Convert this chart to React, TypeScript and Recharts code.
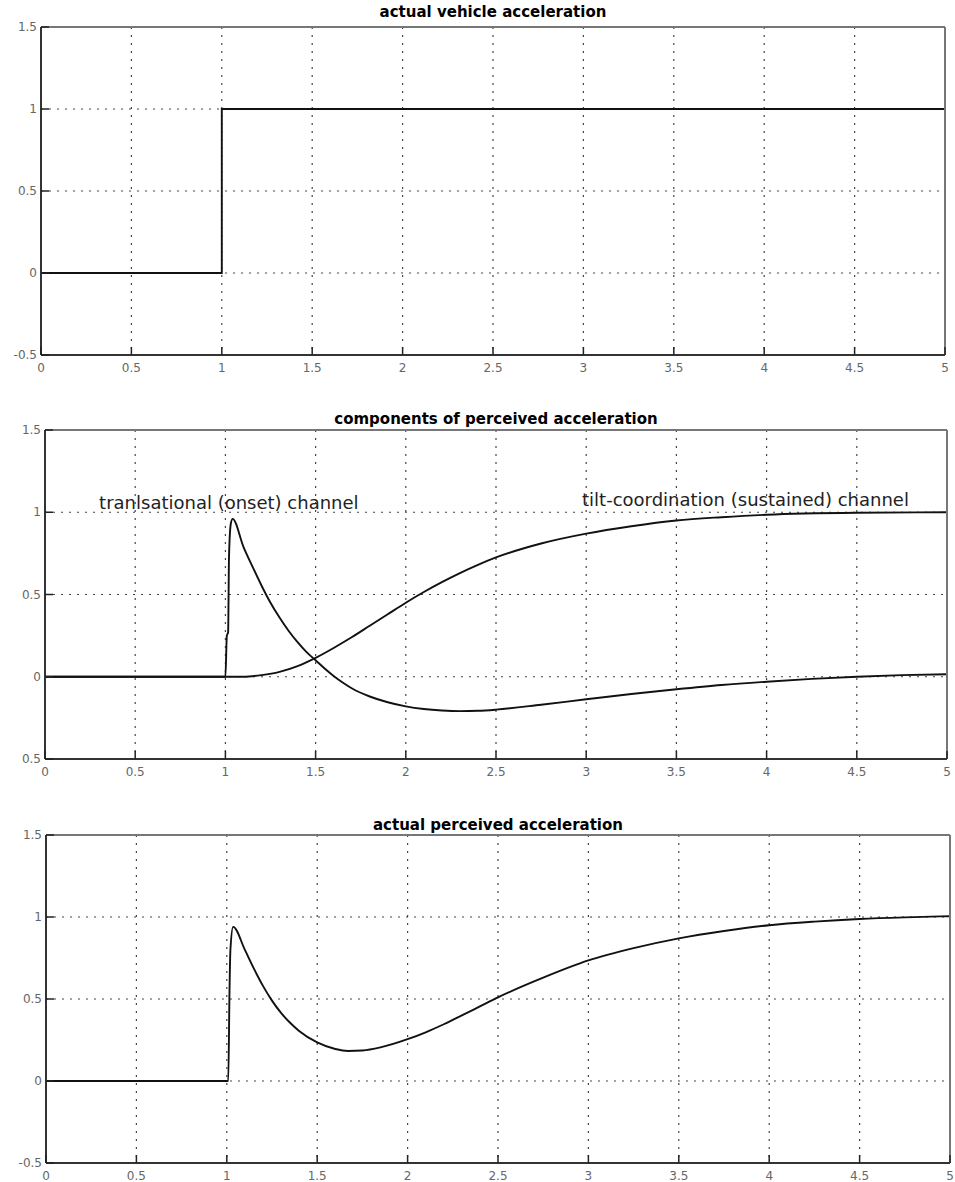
import React from 'react';
import { LineChart, Line, XAxis, YAxis, CartesianGrid, ReferenceDot } from 'recharts';

// ---------- data ----------
const timeTicks = [0, 0.5, 1, 1.5, 2, 2.5, 3, 3.5, 4, 4.5, 5];
const timeTickLabels = ['0', '0.5', '1', '1.5', '2', '2.5', '3', '3.5', '4', '4.5', '5'];
const accelTicks = [-0.5, 0, 0.5, 1, 1.5];
const accelTickLabels = ['-0.5', '0', '0.5', '1', '1.5'];
// the middle panel's lowest label shows as "0.5" in the reference (minus sign clipped)
const accelTickLabelsMiddle = ['0.5', '0', '0.5', '1', '1.5'];

const vehicleAcceleration = [
  { t: 0, a: 0 },
  { t: 1, a: 0 },
  { t: 1, a: 1 },
  { t: 5, a: 1 },
];

const translationalChannel = [
  { t: 0, a: 0 }, { t: 1.0, a: 0 }, { t: 1.008, a: 0.25 }, { t: 1.015, a: 0.27 },
  { t: 1.02, a: 0.73 }, { t: 1.03, a: 0.93 }, { t: 1.04, a: 0.96 },
  { t: 1.1, a: 0.79 }, { t: 1.15, a: 0.67 }, { t: 1.2, a: 0.555 }, { t: 1.25, a: 0.45 },
  { t: 1.3, a: 0.36 }, { t: 1.35, a: 0.28 }, { t: 1.4, a: 0.21 }, { t: 1.45, a: 0.15 },
  { t: 1.5, a: 0.1 }, { t: 1.55, a: 0.05 }, { t: 1.6, a: 0.005 }, { t: 1.65, a: -0.035 },
  { t: 1.7, a: -0.07 }, { t: 1.8, a: -0.12 }, { t: 1.9, a: -0.155 }, { t: 2.0, a: -0.18 },
  { t: 2.1, a: -0.196 }, { t: 2.2, a: -0.205 }, { t: 2.3, a: -0.209 }, { t: 2.4, a: -0.207 },
  { t: 2.5, a: -0.2 }, { t: 2.75, a: -0.17 }, { t: 3.0, a: -0.137 }, { t: 3.25, a: -0.105 },
  { t: 3.5, a: -0.076 }, { t: 3.75, a: -0.05 }, { t: 4.0, a: -0.03 }, { t: 4.25, a: -0.013 },
  { t: 4.5, a: 0.0 }, { t: 4.75, a: 0.01 }, { t: 5.0, a: 0.015 },
];

const tiltChannel = [
  { t: 0, a: 0 }, { t: 1.1, a: 0 }, { t: 1.2, a: 0.01 }, { t: 1.3, a: 0.03 }, { t: 1.4, a: 0.065 },
  { t: 1.5, a: 0.115 }, { t: 1.6, a: 0.175 }, { t: 1.7, a: 0.24 }, { t: 1.8, a: 0.31 },
  { t: 1.9, a: 0.38 }, { t: 2.0, a: 0.45 }, { t: 2.1, a: 0.515 }, { t: 2.2, a: 0.575 },
  { t: 2.3, a: 0.63 }, { t: 2.4, a: 0.68 }, { t: 2.5, a: 0.725 }, { t: 2.75, a: 0.81 },
  { t: 3.0, a: 0.87 }, { t: 3.25, a: 0.915 }, { t: 3.5, a: 0.95 }, { t: 3.75, a: 0.97 },
  { t: 4.0, a: 0.985 }, { t: 4.5, a: 0.997 }, { t: 5.0, a: 1.0 },
];

const perceivedAcceleration = [
  { t: 0, a: 0 }, { t: 1.0, a: 0 }, { t: 1.008, a: 0.0 }, { t: 1.015, a: 0.55 },
  { t: 1.02, a: 0.8 }, { t: 1.035, a: 0.94 }, { t: 1.1, a: 0.8 }, { t: 1.15, a: 0.685 },
  { t: 1.2, a: 0.58 }, { t: 1.25, a: 0.49 }, { t: 1.3, a: 0.415 }, { t: 1.35, a: 0.355 },
  { t: 1.4, a: 0.305 }, { t: 1.5, a: 0.235 }, { t: 1.6, a: 0.195 }, { t: 1.67, a: 0.183 },
  { t: 1.75, a: 0.186 }, { t: 1.85, a: 0.205 }, { t: 2.0, a: 0.255 },
  { t: 2.1, a: 0.297 }, { t: 2.2, a: 0.346 }, { t: 2.3, a: 0.4 }, { t: 2.4, a: 0.455 },
  { t: 2.5, a: 0.51 }, { t: 2.75, a: 0.63 }, { t: 3.0, a: 0.735 }, { t: 3.25, a: 0.81 },
  { t: 3.5, a: 0.87 }, { t: 3.75, a: 0.915 }, { t: 4.0, a: 0.95 }, { t: 4.25, a: 0.972 },
  { t: 4.5, a: 0.988 }, { t: 4.75, a: 0.998 }, { t: 5.0, a: 1.005 },
];

const panelTitles = [
  'actual vehicle acceleration',
  'components of perceived acceleration',
  'actual perceived acceleration',
];

const channelNotes = [
  { text: 'tranlsational (onset) channel', t: 0.3, a: 1.022 },
  { text: 'tilt-coordination (sustained) channel', t: 2.977, a: 1.04 },
];

// ---------- styling ----------
const W = 955;
const TICK_LEN = 8;
const LABEL_FONT = '"DejaVu Sans", sans-serif';
const LABEL_COLOR = '#666';
const FRAME_DARK = '#333';
const FRAME_LIGHT = '#777';

const labelFor = (ticks: number[], labels: string[], v: number) => {
  const i = ticks.findIndex((x) => Math.abs(x - v) < 1e-9);
  return i >= 0 ? labels[i] : String(v);
};

const BottomTick = (props: any) => {
  const { x, y, payload } = props;
  return (
    <g>
      <line x1={x} x2={x} y1={y} y2={y - TICK_LEN} stroke="#222" strokeWidth={1.5} />
      <text x={x} y={y + 17} textAnchor="middle" fill={LABEL_COLOR} fontSize={12} fontFamily={LABEL_FONT}>
        {labelFor(timeTicks, timeTickLabels, payload.value)}
      </text>
    </g>
  );
};

const TopTick = (props: any) => {
  const { x, y } = props;
  return <line x1={x} x2={x} y1={y} y2={y + TICK_LEN} stroke="#222" strokeWidth={1.5} />;
};

const makeLeftTick = (labels: string[]) => (props: any) => {
  const { x, y, payload } = props;
  return (
    <g>
      <line x1={x} x2={x + TICK_LEN} y1={y} y2={y} stroke="#222" strokeWidth={1.5} />
      <text x={x - 4} y={y + 4} textAnchor="end" fill={LABEL_COLOR} fontSize={12} fontFamily={LABEL_FONT}>
        {labelFor(accelTicks, labels, payload.value)}
      </text>
    </g>
  );
};

const RightTick = (props: any) => {
  const { x, y } = props;
  return <line x1={x} x2={x - TICK_LEN} y1={y} y2={y} stroke="#222" strokeWidth={1.5} />;
};

type PanelProps = {
  top: number;
  height: number;
  frame: { top: number; right: number; bottom: number; left: number };
  title: string;
  titleBaseline: number;
  series: { t: number; a: number }[][];
  curveType: 'linear' | 'monotone';
  yLabels: string[];
  notes?: { text: string; t: number; a: number }[];
};

function Panel({ top, height, frame, title, titleBaseline, series, curveType, yLabels, notes }: PanelProps) {
  const plotW = W - frame.left - frame.right;
  return (
    <div style={{ position: 'absolute', left: 0, top, width: W, height }}>
      <div
        style={{
          position: 'absolute',
          left: frame.left,
          width: plotW,
          top: titleBaseline - 12.7,
          height: 15,
          lineHeight: '15px',
          textAlign: 'center',
          fontFamily: LABEL_FONT,
          fontWeight: 'bold',
          fontSize: 15,
          color: '#000',
          whiteSpace: 'nowrap',
        }}
      >
        {title}
      </div>
      <LineChart width={W} height={height} margin={{ top: 0, right: 0, bottom: 0, left: 0 }}>
        <CartesianGrid stroke="#444" strokeWidth={1.2} strokeDasharray="2 6" />
        <XAxis
          type="number"
          dataKey="t"
          domain={[0, 5]}
          ticks={timeTicks}
          interval={0}
          height={frame.bottom}
          tickSize={0}
          tickMargin={0}
          tickLine={false}
          axisLine={{ stroke: FRAME_DARK, strokeWidth: 2 }}
          tick={BottomTick}
        />
        <XAxis
          xAxisId="top"
          orientation="top"
          type="number"
          dataKey="t"
          domain={[0, 5]}
          ticks={timeTicks}
          interval={0}
          height={frame.top}
          tickSize={0}
          tickMargin={0}
          tickLine={false}
          axisLine={{ stroke: FRAME_LIGHT, strokeWidth: 2 }}
          tick={TopTick}
        />
        <YAxis
          type="number"
          domain={[-0.5, 1.5]}
          ticks={accelTicks}
          interval={0}
          width={frame.left}
          tickSize={0}
          tickMargin={0}
          tickLine={false}
          axisLine={{ stroke: FRAME_DARK, strokeWidth: 2 }}
          tick={makeLeftTick(yLabels)}
        />
        <YAxis
          yAxisId="right"
          orientation="right"
          type="number"
          domain={[-0.5, 1.5]}
          ticks={accelTicks}
          interval={0}
          width={frame.right}
          tickSize={0}
          tickMargin={0}
          tickLine={false}
          axisLine={{ stroke: FRAME_LIGHT, strokeWidth: 2 }}
          tick={RightTick}
        />
        {series.map((d, i) => (
          <Line
            key={i}
            data={d}
            dataKey="a"
            type={curveType}
            stroke="#111"
            strokeWidth={1.9}
            dot={false}
            activeDot={false}
            isAnimationActive={false}
          />
        ))}
        {(notes || []).map((n, i) => (
          <ReferenceDot
            key={'n' + i}
            x={n.t}
            y={n.a}
            r={0}
            ifOverflow="visible"
            shape={(p: any) => (
              <text x={p.cx} y={p.cy} fill="#222" fontSize={18} fontFamily={LABEL_FONT} textAnchor="start">
                {n.text}
              </text>
            )}
          />
        ))}
      </LineChart>
    </div>
  );
}

export default function App() {
  return (
    <div style={{ position: 'absolute', left: 0, top: 0, width: W, height: 1182, background: '#fff' }}>
      <Panel
        top={0}
        height={385}
        frame={{ top: 27, right: 10, bottom: 30, left: 41 }}
        title={panelTitles[0]}
        titleBaseline={18}
        series={[vehicleAcceleration]}
        curveType="linear"
        yLabels={accelTickLabels}
      />
      <Panel
        top={395}
        height={395}
        frame={{ top: 35, right: 8, bottom: 31, left: 45 }}
        title={panelTitles[1]}
        titleBaseline={425 - 395}
        series={[translationalChannel, tiltChannel]}
        curveType="monotone"
        yLabels={accelTickLabelsMiddle}
        notes={channelNotes}
      />
      <Panel
        top={800}
        height={382}
        frame={{ top: 35, right: 5, bottom: 19, left: 46 }}
        title={panelTitles[2]}
        titleBaseline={831 - 800}
        series={[perceivedAcceleration]}
        curveType="monotone"
        yLabels={accelTickLabels}
      />
    </div>
  );
}
